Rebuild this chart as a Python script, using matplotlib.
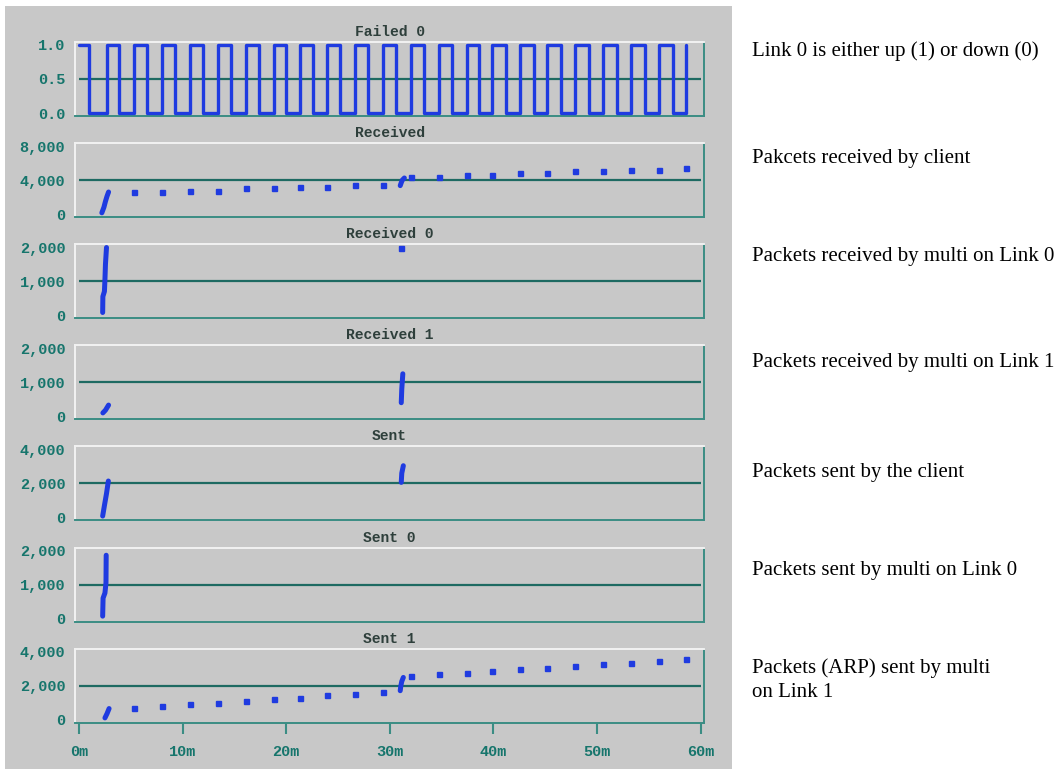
import numpy as np
import matplotlib
matplotlib.use('Agg')
import matplotlib.pyplot as plt
from matplotlib.patches import Rectangle

plt.rcParams['font.family'] = ['Liberation Mono', 'DejaVu Sans']
plt.rcParams['font.weight'] = 'bold'

W, H = 1060, 769

# --- Failed 0: link state changes (minutes, state after change) ---
FAIL_T = [0, 1.0, 2.67, 3.9, 5.34, 6.6, 8.04, 9.3, 10.7, 12.0, 13.4, 14.7, 16.1, 17.4,
          18.8, 20.0, 21.3, 22.6, 23.9, 25.2, 26.6, 27.9, 29.3, 30.6, 32.0, 33.3,
          34.7, 36.0, 37.4, 38.6, 39.9, 41.2, 42.6, 43.9, 45.2, 46.5, 47.9, 49.2,
          50.6, 51.9, 53.3, 54.6, 56.0, 57.3, 58.6]
FAIL_V = [1, 0] * 22 + [1]

# periodic samples (one per link-up)
SAMPLE_T = [5.34, 8.04, 10.7, 13.4, 16.1, 18.8, 21.3, 23.9, 26.6, 29.3,
            32.0, 34.7, 37.4, 39.9, 42.6, 45.2, 47.9, 50.6, 53.3, 56.0, 58.6]
RECV_V = [2550, 2550, 2740, 2740, 3020, 3020, 3180, 3180, 3370, 3370,
          4320, 4320, 4590, 4590, 4790, 4790, 5060, 5060, 5210, 5210, 5410]
SENT1_V = [690, 790, 910, 1000, 1100, 1210, 1300, 1420, 1500, 1630,
           2540, 2660, 2760, 2850, 2950, 3060, 3150, 3250, 3350, 3470, 3550]

# bursts of samples (nan separates bursts)
RECV_BT = [2.2, 2.4, 2.55, 2.7, 2.85, np.nan, 31.0, 31.1, 31.2, 31.4]
RECV_BV = [150, 800, 1500, 2100, 2600, np.nan, 3350, 3700, 4000, 4250]
RECV0_BT = [2.28, 2.3, 2.45, 2.5, 2.55, 2.65]
RECV0_BV = [80, 550, 700, 1050, 1500, 1990]
RECV0_T = [31.1]
RECV0_V = [1990]
RECV1_BT = [2.3, 2.55, 2.85, np.nan, 31.1, 31.15, 31.25]
RECV1_BV = [100, 180, 330, np.nan, 400, 800, 1250]
SENT_BT = [2.28, 2.45, 2.65, 2.83, np.nan, 31.1, 31.15, 31.3]
SENT_BV = [80, 700, 1400, 2140, np.nan, 2060, 2600, 3040]
SENT0_BT = [2.28, 2.32, 2.5, 2.6, 2.62]
SENT0_BV = [70, 600, 750, 1050, 1860]
SENT1_BT = [2.5, 2.7, 2.9, np.nan, 31.0, 31.05, 31.15, 31.3]
SENT1_BV = [100, 350, 650, np.nan, 1700, 1950, 2250, 2480]

TITLES = ['Failed 0', 'Received', 'Received 0', 'Received 1', 'Sent', 'Sent 0', 'Sent 1']
YMAX = [1.0, 8000, 2000, 2000, 4000, 2000, 4000]
NOTES = [('Link 0 is either up (1) or down (0)', 51),
         ('Pakcets received by client', 158),
         ('Packets received by multi on Link 0', 257),
         ('Packets received by multi on Link 1', 362),
         ('Packets sent by the client', 472),
         ('Packets sent by multi on Link 0', 570),
         ('Packets (ARP) sent by multi\non Link 1', 680)]
XTICKS = [0, 10, 20, 30, 40, 50, 60]
XLABELS = ['0m', '10m', '20m', '30m', '40m', '50m', '60m']

GRAY = '#c8c8c8'
BLUE = '#1f3be0'
TEAL = '#16756c'
MID = '#1e6a62'

fig = plt.figure(figsize=(W / 100, H / 100), dpi=100, facecolor='white')
fig.add_artist(Rectangle((5 / W, 0), (732 - 5) / W, (H - 6) / H,
                         transform=fig.transFigure, facecolor=GRAY, edgecolor='none', zorder=-5))

axes = []
for k in range(7):
    top = 42 + 101.1 * k
    ax = fig.add_axes([75 / W, 1 - (top + 74) / H, 629 / W, 74 / H])
    ax.set_facecolor(GRAY)
    ymax = YMAX[k]
    ax.set_xlim(-0.39, 60.32)
    ax.set_ylim(-0.044 * ymax, 1.044 * ymax)
    ax.hlines(ymax / 2, 0, 60, color=MID, lw=1.6, zorder=1)
    ticks = [0, ymax / 2, ymax]
    ax.set_yticks(ticks)
    if k == 0:
        ax.set_yticklabels([f'{t:.1f}' for t in ticks])
    else:
        ax.set_yticklabels([f'{t:,.0f}' for t in ticks])
    ax.tick_params(axis='y', length=0, pad=7, labelsize=11, labelcolor=TEAL)
    for side in ['top', 'left']:
        ax.spines[side].set_color('#f2f2f2')
        ax.spines[side].set_linewidth(1.4)
    for side in ['bottom', 'right']:
        ax.spines[side].set_color('#3b8d84')
        ax.spines[side].set_linewidth(1.4)
    ax.text(0.5, 1 + 10 / 74, TITLES[k], transform=ax.transAxes, ha='center', va='center',
            fontsize=10.5, color='#2e3f3b')
    if k < 6:
        ax.set_xticks([])
    else:
        ax.set_xticks(XTICKS)
        ax.set_xticklabels(XLABELS)
        ax.tick_params(axis='x', direction='out', length=8, width=1.5, color='#3b8d84',
                       pad=8, labelsize=11, labelcolor=TEAL)
    axes.append(ax)

# square wave of link state
axes[0].step(FAIL_T, FAIL_V, where='post', color=BLUE, lw=2.4,
             solid_joinstyle='round', solid_capstyle='round', zorder=3)

def dots(ax, t, v):
    ax.plot(t, v, 's', color=BLUE, ms=3.6, mec=BLUE, zorder=3)

def burst(ax, t, v):
    ax.plot(t, v, '-', color=BLUE, lw=3.6, solid_capstyle='round', zorder=3)

burst(axes[1], RECV_BT, RECV_BV)
dots(axes[1], SAMPLE_T, RECV_V)
burst(axes[2], RECV0_BT, RECV0_BV)
dots(axes[2], RECV0_T, RECV0_V)
burst(axes[3], RECV1_BT, RECV1_BV)
burst(axes[4], SENT_BT, SENT_BV)
burst(axes[5], SENT0_BT, SENT0_BV)
burst(axes[6], SENT1_BT, SENT1_BV)
dots(axes[6], SAMPLE_T, SENT1_V)

for text, y in NOTES:
    fig.text(752 / W, 1 - y / H, text, ha='left', va='center', fontsize=15,
             family='Liberation Serif', weight='normal', color='black', linespacing=1.35)

fig.savefig('out.png', dpi=100, facecolor='white')
